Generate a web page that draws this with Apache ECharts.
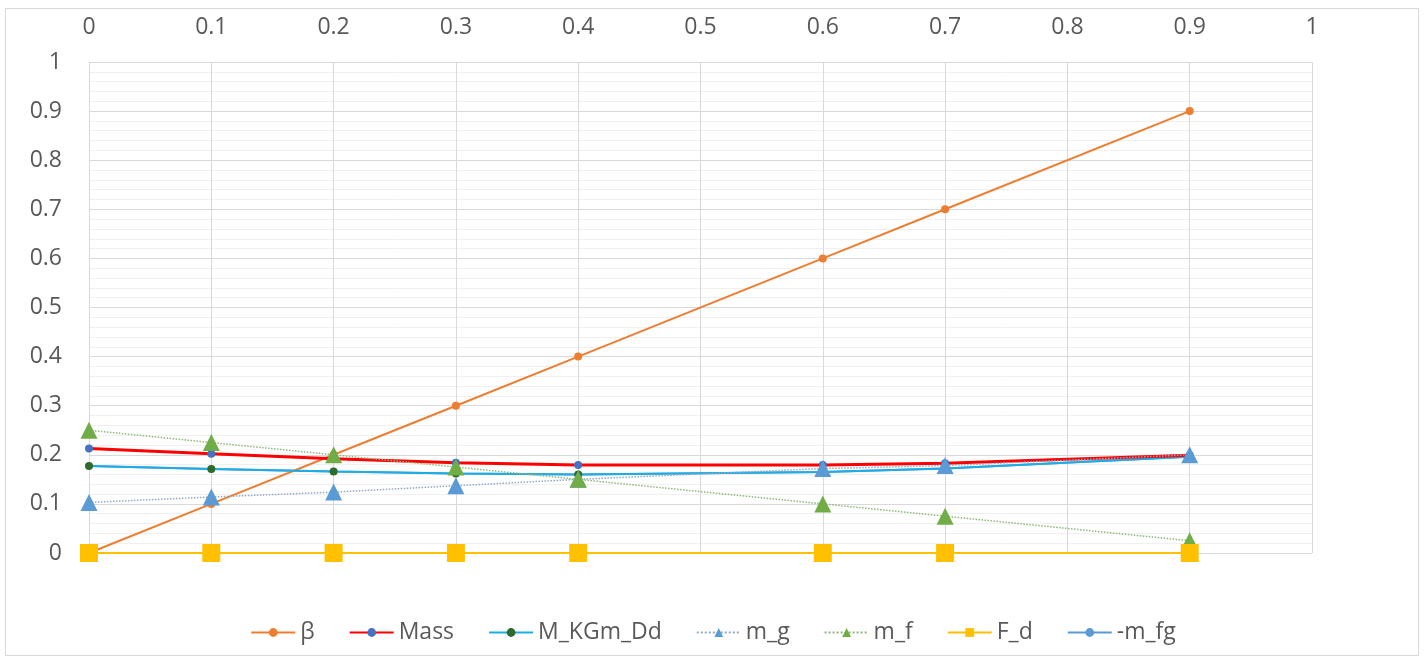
<!DOCTYPE html>
<html><head><meta charset="utf-8">
<script src="https://cdn.jsdelivr.net/npm/echarts@6/dist/echarts.min.js"></script>
<style>html,body{margin:0;padding:0;background:#fff}#c{width:1426px;height:662px}</style>
</head><body><div id="c"></div>
<script>
const xVals = [0, 0.1, 0.2, 0.3, 0.4, 0.6, 0.7, 0.9];
const beta = [0, 0.1, 0.2, 0.3, 0.4, 0.6, 0.7, 0.9];
const mass = [0.213, 0.202, 0.192, 0.184, 0.179, 0.179, 0.183, 0.199];
const mKGmDd = [0.177, 0.171, 0.166, 0.162, 0.160, 0.165, 0.172, 0.196];
const mG = [0.103, 0.114, 0.124, 0.137, 0.150, 0.172, 0.178, 0.200];
const mF = [0.25, 0.225, 0.2, 0.175, 0.15, 0.1, 0.075, 0.025];
const fD = [0, 0, 0, 0, 0, 0, 0, 0];
const mFg = [0.177, 0.171, 0.166, 0.162, 0.160, 0.165, 0.172, 0.196];
const seriesNames = ['β', 'Mass', 'M_KGm_Dd', 'm_g', 'm_f', 'F_d', '-m_fg'];

const pts = arr => xVals.map((x, i) => [x, arr[i]]);
const font = '"Open Sans", "Liberation Sans", sans-serif';
const chart = echarts.init(document.getElementById('c'));
chart.setOption({
  animation: false,
  backgroundColor: '#fff',
  graphic: [{type: 'rect', shape: {x: 5.5, y: 8.5, width: 1413, height: 647}, style: {fill: 'none', stroke: '#d9d9d9', lineWidth: 1}, silent: true, z: -1}],
  grid: {left: 89, right: 114, top: 62, bottom: 109},
  legend: {
    data: seriesNames, bottom: 13, left: 'center', itemWidth: 44, itemHeight: 11, itemGap: 34,
    textStyle: {color: '#595959', fontSize: 23, fontFamily: font}
  },
  xAxis: {
    type: 'value', position: 'top', min: 0, max: 1, interval: 0.1,
    axisLine: {show: false}, axisTick: {show: false},
    axisLabel: {color: '#595959', fontSize: 23, fontFamily: font, margin: 23},
    splitLine: {show: true, lineStyle: {color: '#d9d9d9', width: 1}}
  },
  yAxis: {
    type: 'value', min: 0, max: 1, interval: 0.1,
    axisLine: {show: false}, axisTick: {show: false},
    axisLabel: {color: '#595959', fontSize: 23, fontFamily: font, margin: 27},
    splitLine: {show: true, lineStyle: {color: '#d9d9d9', width: 1}},
    minorTick: {show: false, splitNumber: 5},
    minorSplitLine: {show: true, lineStyle: {color: '#f0f0f0', width: 1}}
  },
  series: [
    {name: '-m_fg', type: 'line', data: pts(mFg), z: 1, symbol: 'circle', symbolSize: 7,
      lineStyle: {color: '#5B9BD5', width: 2}, itemStyle: {color: '#5B9BD5'}},
    {name: 'β', type: 'line', data: pts(beta), z: 3, symbol: 'circle', symbolSize: 8,
      lineStyle: {color: '#ED7D31', width: 2}, itemStyle: {color: '#ED7D31'}},
    {name: 'Mass', type: 'line', data: pts(mass), z: 4, symbol: 'circle', symbolSize: 8,
      lineStyle: {color: '#FF0000', width: 3}, itemStyle: {color: '#4472C4'}},
    {name: 'M_KGm_Dd', type: 'line', data: pts(mKGmDd), z: 3, symbol: 'circle', symbolSize: 8,
      lineStyle: {color: '#1CADE4', width: 2}, itemStyle: {color: '#2E6B2E'}},
    {name: 'm_g', type: 'line', data: pts(mG), z: 5, symbol: 'triangle', symbolSize: 17,
      lineStyle: {color: '#8EA9C8', width: 1.5, type: 'dotted'}, itemStyle: {color: '#5B9BD5'}},
    {name: 'm_f', type: 'line', data: pts(mF), z: 5, symbol: 'triangle', symbolSize: 17,
      lineStyle: {color: '#8DB87A', width: 1.5, type: 'dotted'}, itemStyle: {color: '#70AD47'}},
    {name: 'F_d', type: 'line', data: pts(fD), z: 6, symbol: 'rect', symbolSize: 18,
      lineStyle: {color: '#FFC000', width: 2}, itemStyle: {color: '#FFC000'}}
  ]
});
</script></body></html>
